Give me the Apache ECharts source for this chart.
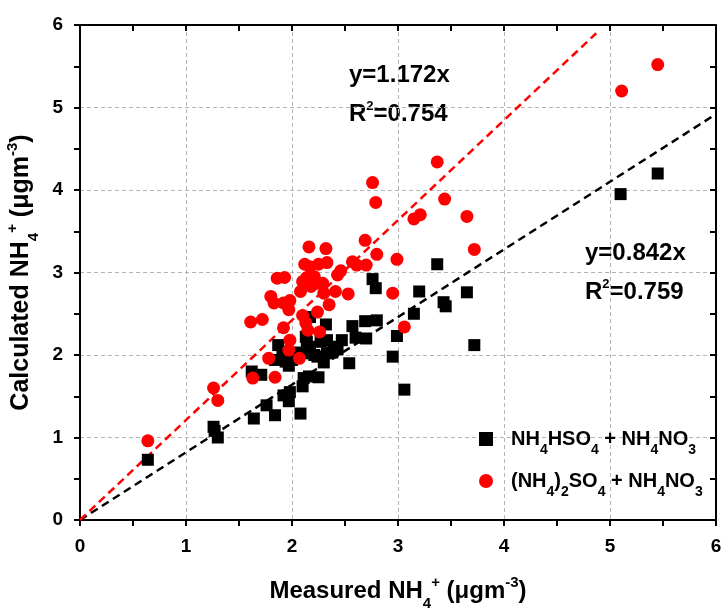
<!DOCTYPE html>
<html>
<head>
<meta charset="utf-8">
<script src="https://cdn.jsdelivr.net/npm/echarts@6/dist/echarts.min.js"></script>
<style>html,body{margin:0;padding:0;background:#fff}#c{width:725px;height:610px}</style>
</head>
<body>
<div id="c"></div>
<script>
// Measured vs calculated NH4+ (ug m-3)
const blackPoints = [
  [0.64,0.73],[1.26,1.13],[1.27,1.08],[1.30,1.00],
  [1.64,1.23],[1.76,1.39],[1.84,1.27],[1.62,1.80],[1.71,1.76],
  [1.92,1.51],[1.98,1.55],[1.97,1.44],[2.08,1.29],
  [2.10,1.62],[2.11,1.72],[2.16,1.74],[2.25,1.73],
  [2.30,1.91],[2.54,1.90],[2.95,1.98],[3.06,1.58],[2.99,2.23],[3.72,2.12],
  [3.15,2.50],[3.20,2.77],[3.37,3.10],[3.43,2.64],[3.45,2.59],[3.65,2.76],
  [2.76,2.92],[2.79,2.81],[2.80,2.42],[2.69,2.41],[2.70,2.20],[2.60,2.21],[2.57,2.35],
  [2.47,2.18],[2.39,2.10],[2.32,2.37],[2.17,2.46],[2.13,2.22],[2.14,2.16],[2.27,2.16],[2.33,2.18],
  [2.10,2.02],[2.17,2.10],[2.24,1.98],[2.33,2.02],
  [1.87,2.12],[1.91,2.02],[1.94,1.92],[1.84,1.94],[2.00,1.94],[1.97,1.87],[2.03,2.03],[2.21,2.00],[2.38,2.03],[2.43,2.07],
  [5.10,3.95],[5.45,4.20]
];
const redPoints = [
  [0.64,0.96],[1.26,1.60],[1.30,1.45],[1.63,1.72],[1.84,1.73],[1.78,1.96],[2.07,1.96],
  [1.97,2.06],[1.98,2.18],[1.92,2.33],[2.26,2.28],[3.06,2.34],[2.10,2.48],[2.13,2.39],[2.15,2.30],
  [1.61,2.40],[1.72,2.43],[2.24,2.52],[2.35,2.61],[1.80,2.71],[1.83,2.63],[1.92,2.63],[1.98,2.66],[1.97,2.55],
  [2.08,2.77],[2.18,2.83],[2.30,2.75],[2.41,2.77],[2.53,2.74],[2.95,2.75],
  [1.86,2.93],[1.93,2.94],[2.10,2.89],[2.14,2.94],[2.21,2.95],[2.24,2.87],[2.29,2.87],[2.46,3.02],[2.43,2.97],
  [2.12,3.10],[2.17,3.07],[2.25,3.10],[2.33,3.12],[2.57,3.13],[2.61,3.09],[2.70,3.09],
  [2.16,3.31],[2.32,3.29],[2.69,3.39],[2.80,3.22],[2.99,3.16],[2.76,4.09],[2.79,3.85],
  [3.15,3.65],[3.21,3.70],[3.37,4.34],[3.44,3.89],[3.65,3.68],[3.72,3.28],
  [5.11,5.20],[5.45,5.52]
];
const redFitLine = [[0,0],[4.87,5.90]];
const blackFitLine = [[0,0],[6,4.92]];
const xTicks = [0,1,2,3,4,5,6];
const yTicks = [0,1,2,3,4,5,6];
const seriesNames = ['NH4HSO4 + NH4NO3', '(NH4)2SO4 + NH4NO3'];

const FONT = '"Liberation Sans", Arial, sans-serif';
const chart = echarts.init(document.getElementById('c'));

function titleRich(size) {
  return {
    base: {fontFamily: FONT, fontWeight: 'bold', fontSize: size, color: '#000', lineHeight: 32},
    sub: {fontFamily: FONT, fontWeight: 'bold', fontSize: 15, color: '#000', verticalAlign: 'bottom', lineHeight: 15, padding:[0,0,-4,0]},
    sup: {fontFamily: FONT, fontWeight: 'bold', fontSize: 15, color: '#000', verticalAlign: 'top', lineHeight: 15}
  };
}
const legRich = {
  t: {fontFamily: FONT, fontWeight: 'bold', fontSize: 20, color: '#000', lineHeight: 24},
  s: {fontFamily: FONT, fontWeight: 'bold', fontSize: 14, color: '#000', verticalAlign: 'bottom', lineHeight: 14, padding:[0,0,-6,0]}
};
const annRich = {
  t: {fontFamily: FONT, fontWeight: 'bold', fontSize: 24, color: '#000', lineHeight: 28},
  p: {fontFamily: FONT, fontWeight: 'bold', fontSize: 13, color: '#000', verticalAlign: 'top', lineHeight: 13}
};

const axisCommon = {
  type: 'value', min: 0, max: 6, interval: 1,
  axisLine: {show: true, onZero: false, lineStyle: {color: '#000', width: 2}},
  axisTick: {show: true, inside: false, length: 6, lineStyle: {color: '#000', width: 2}},
  minorTick: {show: true, splitNumber: 2, length: 6, lineStyle: {color: '#000', width: 2}},
  splitLine: {show: true, lineStyle: {color: '#b4b4b4', type: [4,3], width: 1}},
  axisLabel: {fontFamily: FONT, fontWeight: 'bold', fontSize: 19, color: '#000'}
};
const mirror = {
  type: 'value', min: 0, max: 6, interval: 1,
  axisLine: {show: true, onZero: false, lineStyle: {color: '#000', width: 2}},
  axisTick: {show: true, inside: true, length: 6, lineStyle: {color: '#000', width: 2}},
  minorTick: {show: true, splitNumber: 2, length: 6, lineStyle: {color: '#000', width: 2}},
  splitLine: {show: false},
  axisLabel: {show: false}
};

function legendFmt(name) {
  if (name === seriesNames[0]) return '{t|NH}{s|4}{t|HSO}{s|4}{t| + NH}{s|4}{t|NO}{s|3}';
  return '{t|(NH}{s|4}{t|)}{s|2}{t|SO}{s|4}{t| + NH}{s|4}{t|NO}{s|3}';
}

chart.setOption({
  backgroundColor: '#fff',
  animation: false,
  grid: {left: 80, right: 9, top: 25, bottom: 90, containLabel: false, outerBoundsMode: 'none'},
  xAxis: [
    Object.assign({}, axisCommon, {
      position: 'bottom',
      name: '{base|Measured NH}{sub|4}{sup|+}{base| (μgm}{sup|-3}{base|)}',
      nameLocation: 'middle', nameGap: 55,
      nameTextStyle: {rich: titleRich(24)},
      axisLabel: Object.assign({}, axisCommon.axisLabel, {margin: 17, formatter: v => xTicks.includes(v) ? String(v) : ''})
    }),
    Object.assign({}, mirror, {position: 'top'})
  ],
  yAxis: [
    Object.assign({}, axisCommon, {
      position: 'left',
      name: '{base|Calculated NH}{sub|4}{sup|+}{base| (μgm}{sup|-3}{base|)}',
      nameLocation: 'middle', nameGap: 36,
      nameTextStyle: {rich: titleRich(25)},
      axisLabel: Object.assign({}, axisCommon.axisLabel, {margin: 17, formatter: v => yTicks.includes(v) ? String(v) : ''})
    }),
    Object.assign({}, mirror, {position: 'right'})
  ],
  legend: {
    orient: 'vertical', left: 474, top: 424, itemGap: 14,
    itemWidth: 14, itemHeight: 14,
    data: [
      {name: seriesNames[0], icon: 'rect', itemStyle: {color: '#000'}},
      {name: seriesNames[1], icon: 'circle', itemStyle: {color: '#ff0000'}}
    ],
    formatter: legendFmt,
    textStyle: {rich: legRich, padding: [0,0,0,13]}
  },
  series: [
    {type: 'line', data: blackFitLine, showSymbol: false, symbol: 'none', silent: true, z: 1,
     lineStyle: {color: '#000', width: 2.5, type: [8,5]}},
    {type: 'line', data: redFitLine, showSymbol: false, symbol: 'none', silent: true, z: 1,
     lineStyle: {color: '#ff0000', width: 2.5, type: [8,5]}},
    {name: seriesNames[0], type: 'scatter', data: blackPoints, symbol: 'rect', symbolSize: 12, z: 3,
     itemStyle: {color: '#000', opacity: 1}},
    {name: seriesNames[1], type: 'scatter', data: redPoints, symbol: 'circle', symbolSize: 13, z: 4,
     itemStyle: {color: '#ff0000', opacity: 1}}
  ],
  graphic: [
    {type: 'text', left: 349, top: 63, style: {rich: annRich, text: '{t|y=1.172x}'}},
    {type: 'text', left: 349, top: 100, style: {rich: annRich, text: '{t|R}{p|2}{t|=0.754}'}},
    {type: 'text', left: 585, top: 241, style: {rich: annRich, text: '{t|y=0.842x}'}},
    {type: 'text', left: 585, top: 278, style: {rich: annRich, text: '{t|R}{p|2}{t|=0.759}'}}
  ]
});
</script>
</body>
</html>
